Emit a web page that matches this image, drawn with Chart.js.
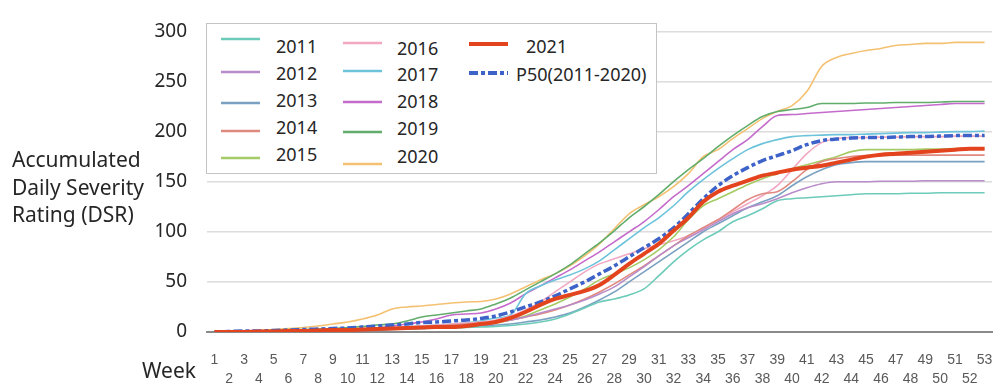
<!DOCTYPE html>
<html>
<head>
<meta charset="utf-8">
<script src="https://cdn.jsdelivr.net/npm/chart.js@4.4.1/dist/chart.umd.min.js"></script>
<style>
  html, body { margin: 0; padding: 0; background: #ffffff; }
  #wrap { position: relative; width: 993px; height: 383px; overflow: hidden; }
  #c { position: absolute; left: 0; top: 0; }
  .txt { position: absolute; font-family: "Noto Sans", sans-serif; color: #262626; white-space: nowrap; }
  #ytitle { left: 12px; top: 146px; font-size: 21px; line-height: 27.5px; }
  #xtitle { left: 142px; top: 355px; font-size: 21px; line-height: 30px; }
  #legend { position: absolute; left: 206px; top: 23px; width: 449px; height: 149px; background: #fff; border: 1.5px solid #c4c4c4; }
  .li { position: absolute; font-family: "Noto Sans", sans-serif; font-size: 18px; color: #262626; line-height: 24px; white-space: nowrap; }
  .sw { position: absolute; }
</style>
</head>
<body>
<div id="wrap">
  <canvas id="c" width="993" height="383"></canvas>
  <div id="legend"></div>
  <div class="txt" id="ytitle">Accumulated<br>Daily Severity<br>Rating (DSR)</div>
  <div class="txt" id="xtitle">Week</div>
</div>
<script>
// ---------- DATA ----------
const weeks = ['1','2','3','4','5','6','7','8','9','10','11','12','13','14','15','16','17','18','19','20',
  '21','22','23','24','25','26','27','28','29','30','31','32','33','34','35','36','37','38','39','40',
  '41','42','43','44','45','46','47','48','49','50','51','52','53'];

const y2011 = [0,0,0,0.5,0.5,1,1,1.5,1.5,2, 2,2.5,3,3,3.5,4,4,4.5,5,5.5, 6.5,8,10,13,18,24,30,33,37,43,
  56,70,82,92,100,110,116,123,131,133, 134,135,136,137,138,138,138,138.5,138.5,139, 139,139,139];
const y2012 = [0,0,0,0.5,0.5,1,1,1.5,2,2, 2.5,3,3.5,4,4.5,5,6,7,8,10, 12,15,19,23,27,32,38,45,55,65,
  76,86,94,102,110,118,124,128,133,139, 144,148,150,150,150,150.5,150.5,150.5,151,151, 151,151,151];
const y2013 = [0,0,0,0.5,0.5,1,1,1,1.5,1.5, 2,2,2.5,3,3.5,4,5,5.5,6,7, 8,10,12,15,19,25,32,40,50,60,
  70,80,90,100,108,116,124,130,136,146, 155,162,167,169,170,170,170,170,170,170, 170,170,170];
const y2014 = [0,0,0,0.5,0.5,1,1,1.5,1.5,2, 2.5,3,3.5,4,5,6,7,8,9,10, 12,15,18,22,27,33,40,48,57,66,
  76,86,96,104,112,122,132,138,140,150, 162,170,173,175,176,176,176.5,176.5,176.5,176.5, 176.5,176.5,176.5];
const y2015 = [0,0,0,0.5,0.5,1,1,1.5,2,2, 2.5,3,3.5,4,4.5,4.5,5,6,7,9, 12,16,22,28,35,43,52,58,64,72,
  82,95,112,126,133,140,147,153,158,163, 167,171,175,180,182,182,182,182,182.5,182.5, 183,183,183];
const y2016 = [0,0,0,0.5,0.5,1,1,1.5,2,2.5, 3,3.5,4,5,6,7,8,9,10,12, 16,22,30,40,50,60,68,73,78,83,
  87,91,96,104,112,120,128,136,146,162, 178,189,193,194,194,194.5,194.5,195,195,195, 195.5,195.5,195.5];
const y2017 = [0,0,0,0.5,0.5,1,1,1.5,2,2.5, 3,3.5,4,5,6,7,8,9,11,14, 17,38,46,52,57,63,71,82,93,104,
  114,126,140,152,163,173,182,188,192,195, 196,196.5,197,197,197.5,198,198.5,199,199,199.5, 200,200,200.5];
const y2018 = [0,0,0,0.5,0.5,1,1,1.5,1.5,2, 3,4,6,8,10,13,17,18,19,23, 29,38,46,54,62,71,80,90,100,110,
  122,135,146,158,170,182,192,205,216,217, 218,219,220,221,222,223,224,225,226,227, 228,228,228];
const y2019 = [0,0,0.5,1,1.5,2,2.5,3,3.5,4.5, 5.5,7,8,11,15,17,19,21,23,28, 34,42,50,58,67,78,89,101,114,125,
  137,150,162,173,185,196,206,215,220,222, 224,228,228,228,228.5,228.5,229,229,229,229.5, 230,230,230];
const y2020 = [0,0.5,1,1.5,2.5,3.5,4.5,6,8,10, 13,17,23,25,26,27.5,29,30,30.5,33, 38,45,52,58,66,76,88,103,118,127,
  135,145,158,175,182,193,203,213,220,226, 240,265,274,278,281,283,286,287,288,288, 289,289,289];
const y2021 = [0,0,0,0.5,0.5,1,1,1.5,2,2, 2.5,3,3.5,4,4.5,5,5,6,8,10, 14,20,27,33,37,41,47,57,68,78,
  88,101,114,130,140,146,151,156,159,162, 164,166,169,172,175,177,178,179,180,181, 182,183,183];
const yP50 = [0,0.5,1,1,1.5,2,2.5,3,3.5,4, 5,6,7,8,9.5,10,11,12,13.5,16, 20,25,30,36,43,50,58,66,75,84,
  93,104,118,133,146,156,164,171,176,181, 187,191,192.5,193.5,194,194,194.5,195,195,195.5, 196,196,196];

const yTickValues = [0, 50, 100, 150, 200, 250, 300];

// ---------- STYLE ----------
const series = [
  { label: '2011', data: y2011, color: '#6dcbb9', width: 1.6 },
  { label: '2012', data: y2012, color: '#b98cc9', width: 1.6 },
  { label: '2013', data: y2013, color: '#7aa0c2', width: 1.6 },
  { label: '2014', data: y2014, color: '#e0897f', width: 1.6 },
  { label: '2015', data: y2015, color: '#a5cb66', width: 1.6 },
  { label: '2016', data: y2016, color: '#f2a8c2', width: 1.6 },
  { label: '2017', data: y2017, color: '#6cc3da', width: 1.6 },
  { label: '2018', data: y2018, color: '#c46bcb', width: 1.6 },
  { label: '2019', data: y2019, color: '#62ad6c', width: 1.6 },
  { label: '2020', data: y2020, color: '#f4c172', width: 1.6 },
  { label: '2021', data: y2021, color: '#e3431d', width: 4 },
  { label: 'P50(2011-2020)', data: yP50, color: '#3d63c9', width: 3.5, dash: [9, 3, 4, 3] }
];

const drawOrder = { '2021': 0, 'P50(2011-2020)': 1 };

const datasets = series.map(s => ({
  label: s.label,
  data: s.data,
  borderColor: s.color,
  backgroundColor: s.color,
  borderWidth: s.width,
  borderDash: s.dash || [],
  pointRadius: 0,
  fill: false,
  cubicInterpolationMode: 'monotone',
  order: (s.label in drawOrder) ? drawOrder[s.label] : 5
}));

new Chart(document.getElementById('c'), {
  type: 'line',
  data: { labels: weeks, datasets },
  options: {
    responsive: false,
    animation: false,
    events: [],
    layout: { padding: { top: 24, right: 1, left: 0, bottom: 0 } },
    plugins: { legend: { display: false }, tooltip: { enabled: false } },
    scales: {
      x: {
        offset: true,
        grid: { display: false, drawTicks: false },
        border: { display: true, color: '#8a8a8a', width: 2 },
        ticks: {
          autoSkip: false, maxRotation: 0, minRotation: 0, padding: 0,
          color: '#595959',
          font: { family: 'Liberation Sans', size: 14, lineHeight: 1.35 },
          callback: (v, i) => (i % 2 === 0) ? ['', weeks[i], ''] : ['', '', weeks[i]]
        },
        afterFit: s => { s.height = 51; }
      },
      y: {
        min: 0, max: 300,
        grid: { color: '#dcdcdc', lineWidth: 1.5, drawTicks: false },
        border: { display: false },
        ticks: {
          stepSize: 25, padding: 20, color: '#262626',
          font: { family: 'Noto Sans', size: 19 },
          callback: v => yTickValues.includes(v) ? String(v) : ''
        },
        afterFit: s => { s.width = 207; }
      }
    }
  }
});

// ---------- LEGEND (HTML) ----------
const legendLayout = {
  '2011': { sx: 14, sy: 15, tx: 69, ty: 10 },
  '2012': { sx: 14, sy: 48, tx: 69, ty: 37 },
  '2013': { sx: 14, sy: 79, tx: 69, ty: 64 },
  '2014': { sx: 14, sy: 107, tx: 69, ty: 91 },
  '2015': { sx: 14, sy: 134, tx: 69, ty: 118 },
  '2016': { sx: 136, sy: 19, tx: 190, ty: 12 },
  '2017': { sx: 136, sy: 47, tx: 190, ty: 38 },
  '2018': { sx: 136, sy: 78, tx: 190, ty: 65 },
  '2019': { sx: 136, sy: 108, tx: 190, ty: 92 },
  '2020': { sx: 136, sy: 140, tx: 190, ty: 120 },
  '2021': { sx: 262, sy: 20, tx: 319, ty: 10 },
  'P50(2011-2020)': { sx: 262, sy: 49, tx: 309, ty: 38 }
};
const leg = document.getElementById('legend');
series.forEach(s => {
  const L = legendLayout[s.label];
  const lw = s.width >= 3 ? 4 : 2.6;
  const sw = document.createElementNS('http://www.w3.org/2000/svg', 'svg');
  sw.setAttribute('class', 'sw');
  sw.setAttribute('width', '40');
  sw.setAttribute('height', '8');
  sw.style.left = L.sx + 'px';
  sw.style.top = (L.sy - 4) + 'px';
  const ln = document.createElementNS('http://www.w3.org/2000/svg', 'line');
  ln.setAttribute('x1', '0'); ln.setAttribute('x2', '39');
  ln.setAttribute('y1', '4'); ln.setAttribute('y2', '4');
  ln.setAttribute('stroke', s.color);
  ln.setAttribute('stroke-width', lw);
  if (s.dash) ln.setAttribute('stroke-dasharray', '9 3 4 3');
  sw.appendChild(ln);
  leg.appendChild(sw);
  const t = document.createElement('div');
  t.className = 'li';
  t.textContent = s.label;
  t.style.left = L.tx + 'px';
  t.style.top = L.ty + 'px';
  leg.appendChild(t);
});
</script>
</body>
</html>
